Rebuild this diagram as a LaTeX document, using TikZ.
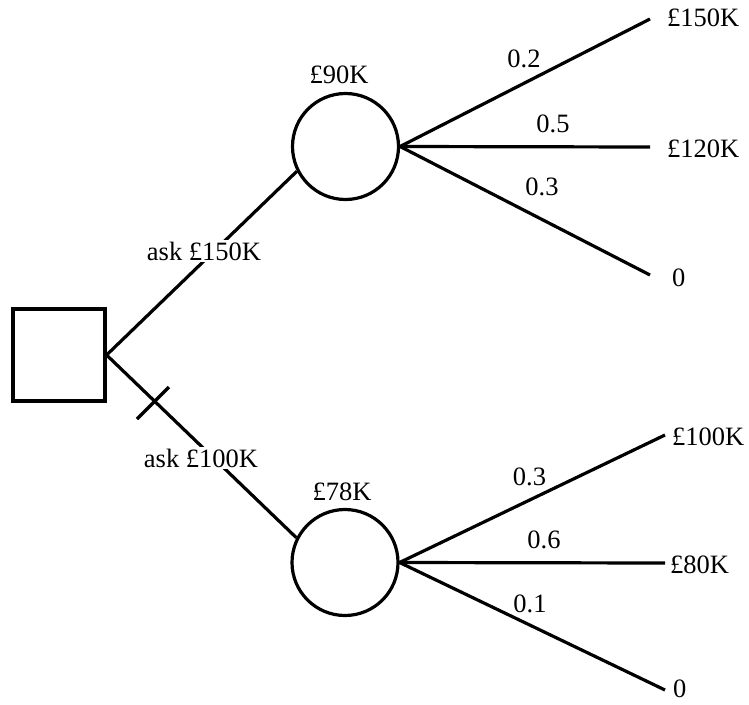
\documentclass[tikz,border=0pt]{standalone}
\usepackage{fontspec}
\setmainfont{Liberation Serif}
\begin{document}
\begin{tikzpicture}[x=1pt,y=-1pt,
  every node/.style={font=\fontsize{26.5}{30}\selectfont},
  ln/.style={line width=3.2pt},
  decbox/.style={draw,line width=3.2pt,rectangle,minimum size=92pt,inner sep=0pt},
  chance/.style={draw,line width=3.2pt,circle,minimum size=106pt,inner sep=0pt},
  lbl/.style={anchor=base,inner sep=1pt},
  blbl/.style={anchor=base,fill=white,inner sep=2pt},
  leaf/.style={anchor=base west,inner sep=0pt}]
\useasboundingbox (0,0) rectangle (749,704);
\node[decbox] (sq) at (59,355) {};
\node[chance] (c1) at (345.5,146.5) {};
\node[chance] (c2) at (345,562.5) {};
\coordinate (l1) at (650,19);
\coordinate (l2) at (650,147);
\coordinate (l3) at (650,275);
\coordinate (l4) at (665,435);
\coordinate (l5) at (665,563);
\coordinate (l6) at (665,690);
\draw[ln] (sq.east) -- (c1.207);
\draw[ln] (sq.east) -- (c2.153);
\draw[ln] (137,419) -- (169,387);
\foreach \l in {l1,l2,l3} \draw[ln] (c1.east) -- (\l);
\foreach \l in {l4,l5,l6} \draw[ln] (c2.east) -- (\l);
\node[blbl] (a1) at (204,260) {ask £150K};
\node[blbl] (a2) at (201,467) {ask £100K};
\node[lbl] (v1) at (339,83) {£90K};
\node[lbl] (v2) at (342,500) {£78K};
\node[lbl] (p1) at (524,67) {0.2};
\node[lbl] (p2) at (553,132) {0.5};
\node[lbl] (p3) at (542,195) {0.3};
\node[lbl] (p4) at (529.5,485) {0.3};
\node[lbl] (p5) at (544,548) {0.6};
\node[lbl] (p6) at (530,612) {0.1};
\node[leaf] (t1) at (667,27) {£150K};
\node[leaf] (t2) at (667,157) {£120K};
\node[leaf] (t3) at (672,286) {0};
\node[leaf] (t4) at (672,445) {£100K};
\node[leaf] (t5) at (670,573) {£80K};
\node[leaf] (t6) at (673,697) {0};
\end{tikzpicture}
\end{document}
